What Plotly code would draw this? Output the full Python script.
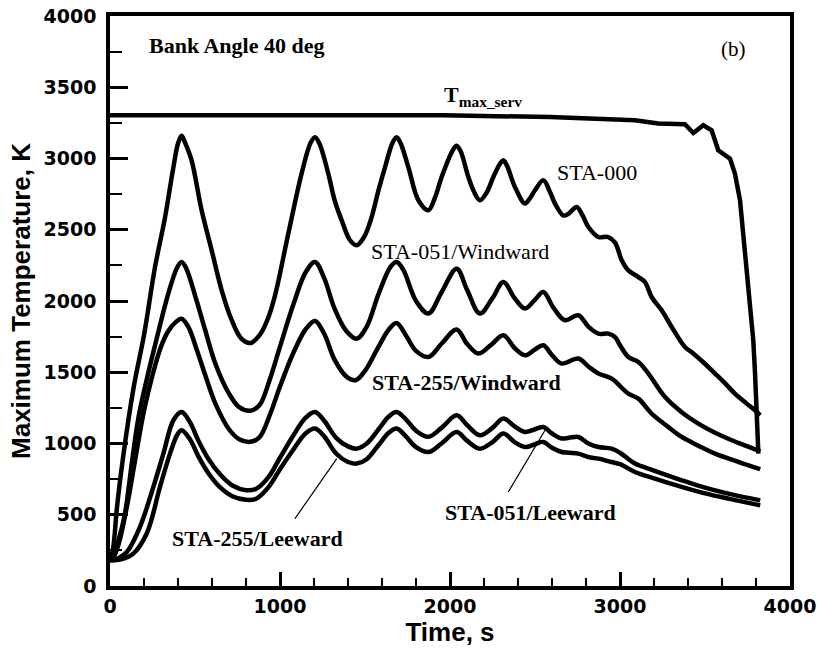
import plotly.graph_objects as go

# ---- data ----
t_tmax = [0, 1000, 1700, 1960, 2588, 2882, 2971, 3088, 3225, 3382, 3431, 3490, 3539, 3578, 3647,
          3676, 3706, 3725, 3745, 3765, 3784, 3794, 3804, 3814]
T_tmax = [3303, 3303, 3298, 3303, 3291, 3280, 3280, 3268, 3245, 3240, 3179, 3233, 3198, 3058, 2999,
          2894, 2707, 2473, 2239, 2005, 1724, 1500, 1210, 929]

t_000 = [0, 15, 25, 40, 80, 140, 200, 265, 324, 373, 400, 421, 442, 480, 539, 598, 657, 716, 770, 825,
         880, 930, 971, 1049, 1127, 1180, 1206, 1232, 1284, 1323, 1363, 1410, 1451, 1495, 1539, 1580,
         1618, 1662, 1686, 1710, 1755, 1814, 1873, 1910, 1951, 2015, 2039, 2063, 2108, 2140, 2176,
         2215, 2255, 2295, 2314, 2335, 2382, 2441, 2470, 2500, 2549, 2590, 2618, 2667, 2700, 2745,
         2780, 2814, 2873, 2931, 2971, 3010, 3049, 3108, 3147, 3186, 3245, 3304, 3382, 3422, 3490,
         3559, 3620, 3676, 3740, 3794, 3825]
T_000 = [180, 240, 330, 540, 930, 1400, 1760, 2239, 2589, 2940, 3105, 3160, 3110, 2987, 2636, 2356,
         2075, 1865, 1740, 1705, 1760, 1880, 2040, 2473, 2894, 3110, 3150, 3105, 2894, 2700, 2566,
         2430, 2391, 2450, 2589, 2780, 2940, 3110, 3150, 3105, 2940, 2707, 2637, 2720, 2870, 3055,
         3090, 3050, 2870, 2770, 2707, 2760, 2870, 2965, 2987, 2950, 2800, 2684, 2720, 2777, 2847,
         2760, 2684, 2600, 2615, 2660, 2600, 2519, 2449, 2449, 2410, 2286, 2215, 2168, 2133, 2028,
         1935, 1818, 1677, 1640, 1570, 1491, 1420, 1350, 1285, 1233, 1198]

t_051w = [0, 20, 50, 88, 128, 167, 216, 265, 343, 395, 421, 448, 510, 559, 620, 700, 760, 825, 880,
          940, 1000, 1080, 1150, 1206, 1260, 1320, 1390, 1451, 1510, 1580, 1650, 1686, 1725, 1800,
          1873, 1950, 2039, 2100, 2176, 2250, 2314, 2380, 2441, 2500, 2549, 2610, 2676, 2755, 2814,
          2873, 2931, 2971, 3000, 3049, 3108, 3167, 3265, 3363, 3461, 3559, 3657, 3750, 3825]
T_051w = [180, 215, 320, 508, 859, 1180, 1450, 1690, 2052, 2235, 2274, 2230, 2000, 1800, 1560, 1350,
          1255, 1230, 1270, 1450, 1680, 1980, 2200, 2274, 2160, 1950, 1790, 1736, 1820, 2050, 2240,
          2274, 2220, 2000, 1912, 2060, 2227, 2080, 1912, 2020, 2133, 2020, 1947, 2010, 2063, 1950,
          1865, 1900, 1820, 1771, 1771, 1747, 1690, 1607, 1572, 1491, 1326, 1220, 1140, 1075, 1023,
          980, 945]

t_255w = [0, 20, 50, 100, 150, 200, 250, 300, 343, 385, 421, 460, 510, 560, 620, 700, 760, 825, 880,
          940, 1000, 1080, 1150, 1206, 1260, 1320, 1390, 1445, 1500, 1580, 1640, 1686, 1740, 1800,
          1873, 1950, 2039, 2100, 2167, 2240, 2314, 2380, 2441, 2500, 2549, 2600, 2657, 2755, 2814,
          2873, 2951, 3049, 3108, 3186, 3280, 3363, 3461, 3559, 3700, 3825]
T_255w = [180, 200, 290, 560, 900, 1230, 1480, 1680, 1790, 1850, 1875, 1820, 1660, 1480, 1280, 1100,
          1030, 1012, 1045, 1200, 1400, 1640, 1800, 1860, 1770, 1590, 1470, 1444, 1510, 1680, 1800,
          1845, 1760, 1650, 1607, 1700, 1800, 1700, 1631, 1690, 1759, 1670, 1619, 1660, 1689, 1620,
          1561, 1596, 1540, 1491, 1455, 1350, 1315, 1210, 1120, 1046, 985, 929, 870, 820]

t_051l = [0, 50, 100, 176, 255, 314, 373, 421, 470, 520, 580, 650, 720, 800, 860, 930, 1000, 1080,
          1150, 1206, 1260, 1330, 1400, 1451, 1510, 1580, 1640, 1686, 1740, 1800, 1873, 1950, 2039,
          2100, 2176, 2250, 2314, 2380, 2441, 2500, 2549, 2600, 2657, 2700, 2755, 2814, 2873, 2950,
          3000, 3088, 3200, 3363, 3500, 3650, 3825]
T_051l = [180, 195, 240, 414, 695, 929, 1163, 1221, 1150, 1020, 890, 780, 705, 672, 682, 760, 900,
          1060, 1180, 1221, 1160, 1040, 980, 964, 1000, 1100, 1190, 1221, 1170, 1090, 1047, 1110,
          1198, 1130, 1058, 1110, 1175, 1120, 1081, 1100, 1116, 1070, 1035, 1040, 1046, 1000, 975,
          964, 935, 859, 810, 742, 690, 645, 601]

t_255l = [0, 60, 137, 216, 294, 353, 395, 421, 470, 520, 580, 650, 720, 800, 860, 930, 1000, 1080,
          1150, 1206, 1260, 1330, 1400, 1451, 1510, 1580, 1640, 1686, 1740, 1800, 1873, 1950, 2039,
          2100, 2176, 2250, 2314, 2380, 2441, 2500, 2549, 2600, 2657, 2700, 2755, 2814, 2873, 2950,
          3000, 3088, 3200, 3363, 3500, 3650, 3825]
T_255l = [180, 185, 227, 368, 695, 929, 1060, 1093, 1030, 910, 790, 690, 630, 605, 612, 690, 820,
          960, 1070, 1105, 1050, 930, 870, 859, 890, 990, 1075, 1105, 1050, 975, 940, 1000, 1081,
          1020, 964, 1010, 1070, 1010, 975, 995, 1011, 970, 940, 935, 929, 905, 894, 870, 855, 800,
          755, 695, 650, 610, 566]

x_ticks = [0, 1000, 2000, 3000, 4000]
y_ticks = [0, 500, 1000, 1500, 2000, 2500, 3000, 3500, 4000]

SERIF = "Liberation Serif, Times New Roman, serif"
SANS = "Liberation Sans, Arial, sans-serif"

fig = go.Figure()
LW = 4.5
fig.add_trace(go.Scatter(x=t_tmax, y=T_tmax, mode="lines", name="T_max_serv",
                         line=dict(color="black", width=LW)))
for name, tx, ty in [("STA-000", t_000, T_000), ("STA-051/Windward", t_051w, T_051w),
                     ("STA-255/Windward", t_255w, T_255w), ("STA-051/Leeward", t_051l, T_051l),
                     ("STA-255/Leeward", t_255l, T_255l)]:
    fig.add_trace(go.Scatter(x=tx, y=ty, mode="lines", name=name,
                             line=dict(color="black", width=LW, shape="spline", smoothing=1.0)))

def ann(text, x, y, xanchor="left", bold=False, size=22):
    fig.add_annotation(x=x, y=y, xref="x", yref="y", text=text, showarrow=False,
                       xanchor=xanchor, yanchor="middle",
                       font=dict(family=SERIF, size=size, color="black",
                                 weight="bold" if bold else "normal"))

ann("Bank Angle 40 deg", 216, 3795, bold=True)
ann("(b)", 3665, 3765, xanchor="center", size=21)
ann("T<sub>max_serv</sub>", 1955, 3440, bold=True)
ann("STA-000", 2863, 2905, xanchor="center")
ann("STA-051/Windward", 1521, 2350)
ann("STA-255/Windward", 1529, 1430, bold=True)
ann("STA-255/Leeward", 353, 330, bold=True)
ann("STA-051/Leeward", 1961, 515, bold=True)

fig.add_shape(type="line", x0=1088, y0=473, x1=1334, y1=894, xref="x", yref="y",
              line=dict(color="black", width=1.2))
fig.add_shape(type="line", x0=2343, y0=660, x1=2559, y1=1093, xref="x", yref="y",
              line=dict(color="black", width=1.2))

fig.update_layout(
    width=817, height=651,
    margin=dict(l=110, r=27, t=16, b=65),
    paper_bgcolor="white", plot_bgcolor="white",
    showlegend=False,
)
fig.update_xaxes(
    range=[0, 4000], tickvals=x_ticks, ticks="inside", ticklen=14, tickwidth=3, tickcolor="black",
    minor=dict(dtick=200, ticks="inside", ticklen=8, tickwidth=2, tickcolor="black"),
    showgrid=False, zeroline=False, showline=True, linecolor="black", linewidth=3.5, mirror=True,
    tickfont=dict(family="DejaVu Sans", size=19, color="black", weight="bold"),
    automargin=False,
    title=dict(text="Time, s", font=dict(family=SANS, size=26, color="black", weight="bold"),
               standoff=8),
)
fig.update_yaxes(
    range=[0, 4000], tickvals=y_ticks, ticks="inside", ticklen=18, tickwidth=3, tickcolor="black",
    minor=dict(dtick=250, ticks="inside", ticklen=12, tickwidth=2, tickcolor="black"),
    showgrid=False, zeroline=False, showline=True, linecolor="black", linewidth=3.5, mirror=True,
    tickfont=dict(family="DejaVu Sans", size=19, color="black", weight="bold"),
    ticklabelstandoff=6, automargin=False,
    title=dict(text="Maximum Temperature, K", font=dict(family=SANS, size=26, color="black",
                                                         weight="bold"), standoff=6),
)

fig.write_html("out.html")
